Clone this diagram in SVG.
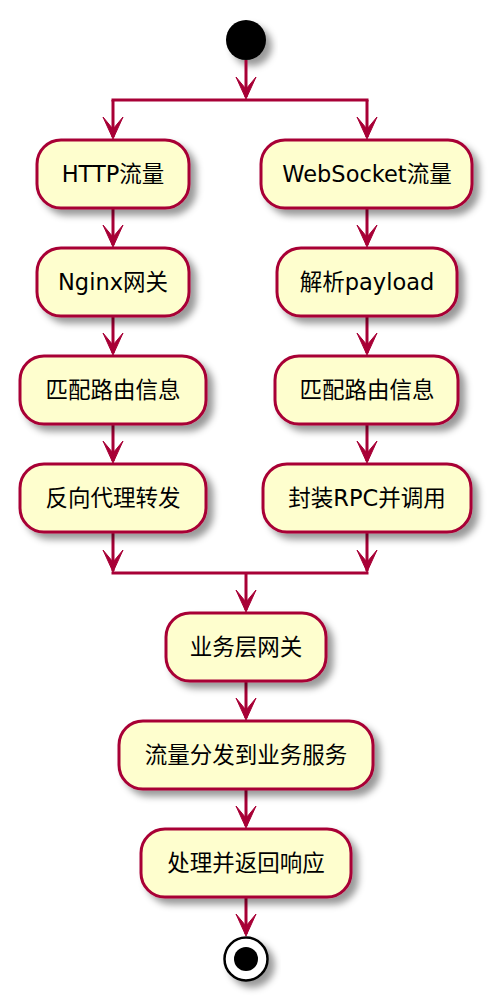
<svg xmlns="http://www.w3.org/2000/svg" width="492" height="1001" viewBox="0 0 492 1001">
<style>
.box{fill:#FEFECE;stroke:#A80036;stroke-width:3;filter:url(#sh)}
.t{font-family:"DejaVu Sans","Noto Sans CJK SC",sans-serif;font-size:22.5px;fill:#000;text-anchor:middle}
.ln{stroke:#A80036;stroke-width:3;fill:none}
.ah{fill:#A80036;stroke:#A80036;stroke-width:1}
</style>
<defs>
<filter id="sh" x="-20%" y="-20%" width="150%" height="160%">
<feGaussianBlur in="SourceAlpha" stdDeviation="3.5"/>
<feOffset dx="6" dy="6" result="b"/>
<feFlood flood-color="#000" flood-opacity="0.4"/>
<feComposite in2="b" operator="in"/>
<feMerge><feMergeNode/><feMergeNode in="SourceGraphic"/></feMerge>
</filter>
</defs>
<g id="start"><circle cx="246" cy="40" r="20" fill="#000" filter="url(#sh)"/></g>
<g id="connectors">
<line class="ln" x1="246" y1="60" x2="246" y2="97"/>
<polygon class="ah" points="236,77 246,99 256,77 246,89"/>
<line class="ln" x1="111.5" y1="100" x2="368.5" y2="100"/>
<line class="ln" x1="113" y1="100" x2="113" y2="137"/>
<polygon class="ah" points="103,117 113,139 123,117 113,129"/>
<line class="ln" x1="367" y1="100" x2="367" y2="137"/>
<polygon class="ah" points="357,117 367,139 377,117 367,129"/>
<line class="ln" x1="113" y1="208" x2="113" y2="245"/>
<polygon class="ah" points="103,225 113,247 123,225 113,237"/>
<line class="ln" x1="113" y1="316" x2="113" y2="353"/>
<polygon class="ah" points="103,333 113,355 123,333 113,345"/>
<line class="ln" x1="113" y1="424" x2="113" y2="461"/>
<polygon class="ah" points="103,441 113,463 123,441 113,453"/>
<line class="ln" x1="113" y1="532" x2="113" y2="571"/>
<polygon class="ah" points="103,550 113,572 123,550 113,562"/>
<line class="ln" x1="367" y1="208" x2="367" y2="245"/>
<polygon class="ah" points="357,225 367,247 377,225 367,237"/>
<line class="ln" x1="367" y1="316" x2="367" y2="353"/>
<polygon class="ah" points="357,333 367,355 377,333 367,345"/>
<line class="ln" x1="367" y1="424" x2="367" y2="461"/>
<polygon class="ah" points="357,441 367,463 377,441 367,453"/>
<line class="ln" x1="367" y1="532" x2="367" y2="571"/>
<polygon class="ah" points="357,550 367,572 377,550 367,562"/>
<line class="ln" x1="111.5" y1="573" x2="368.5" y2="573"/>
<line class="ln" x1="246" y1="573" x2="246" y2="610"/>
<polygon class="ah" points="236,590 246,612 256,590 246,602"/>
<line class="ln" x1="246" y1="681" x2="246" y2="718"/>
<polygon class="ah" points="236,698 246,720 256,698 246,710"/>
<line class="ln" x1="246" y1="789" x2="246" y2="826"/>
<polygon class="ah" points="236,806 246,828 256,806 246,818"/>
<line class="ln" x1="246" y1="897" x2="246" y2="934"/>
<polygon class="ah" points="236,914 246,936 256,914 246,926"/>
</g>
<g id="n1"><rect class="box" x="37" y="140" width="152" height="68" rx="24"/><text class="t" x="113" y="182">HTTP流量</text></g>
<g id="n2"><rect class="box" x="261" y="140" width="211" height="68" rx="24"/><text class="t" x="367" y="182">WebSocket流量</text></g>
<g id="n3"><rect class="box" x="37" y="248" width="152" height="68" rx="24"/><text class="t" x="113" y="290">Nginx网关</text></g>
<g id="n4"><rect class="box" x="277" y="248" width="180" height="68" rx="24"/><text class="t" x="367" y="290">解析payload</text></g>
<g id="n5"><rect class="box" x="20" y="356" width="186" height="68" rx="24"/><text class="t" x="113" y="398">匹配路由信息</text></g>
<g id="n6"><rect class="box" x="275" y="356" width="183" height="68" rx="24"/><text class="t" x="367" y="398">匹配路由信息</text></g>
<g id="n7"><rect class="box" x="20" y="464" width="186" height="68" rx="24"/><text class="t" x="113" y="506">反向代理转发</text></g>
<g id="n8"><rect class="box" x="263" y="464" width="208" height="68" rx="24"/><text class="t" x="367" y="506">封装RPC并调用</text></g>
<g id="n9"><rect class="box" x="166" y="613" width="160" height="68" rx="24"/><text class="t" x="246" y="655">业务层网关</text></g>
<g id="n10"><rect class="box" x="119" y="721" width="254" height="68" rx="24"/><text class="t" x="246" y="763">流量分发到业务服务</text></g>
<g id="n11"><rect class="box" x="141" y="829" width="210" height="68" rx="24"/><text class="t" x="246" y="871">处理并返回响应</text></g>
<g id="end"><circle cx="246" cy="959" r="21.5" fill="#fff" stroke="#000" stroke-width="2.5" filter="url(#sh)"/><circle cx="246" cy="959" r="12" fill="#000"/></g>
</svg>
